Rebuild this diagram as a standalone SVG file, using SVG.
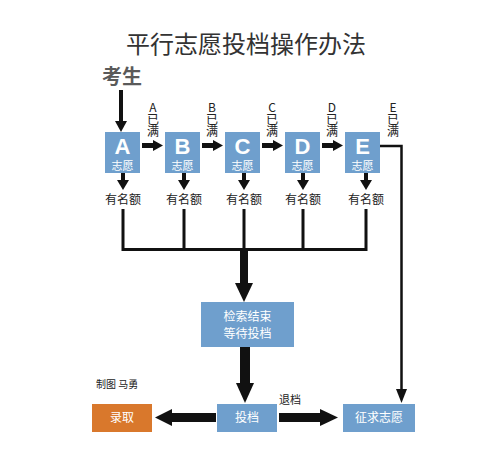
<svg xmlns="http://www.w3.org/2000/svg" width="499" height="458" viewBox="0 0 499 458">
<style>
text{font-family:"Noto Sans CJK SC","Liberation Sans",sans-serif;}
.box{fill:#6f9fcd;}
.org{fill:#d9782c;}
.wt{fill:#fff;text-anchor:middle;}
.big{font-size:22px;font-weight:bold;font-family:"Liberation Sans","Noto Sans CJK SC",sans-serif;}
.sm{font-size:11px;}
.lbl{font-size:12px;fill:#222;text-anchor:middle;}
.vl{font-size:12px;fill:#222;writing-mode:vertical-rl;text-orientation:upright;}
.ln{stroke:#111;fill:none;}
.ar{fill:#111;}
</style>
<rect width="499" height="458" fill="#fff"/>
<text x="246" y="53" font-size="24" fill="#333" text-anchor="middle">平行志愿投档操作办法</text>
<text x="122" y="84" font-size="20" font-weight="bold" fill="#5a5a5a" text-anchor="middle">考生</text>

<g id="nodeA"><rect class="box" x="105" y="132" width="35" height="41"/><text class="wt big" x="122.5" y="154">A</text><text class="wt sm" x="122.5" y="170">志愿</text></g>
<g id="nodeB"><rect class="box" x="165" y="132" width="35" height="41"/><text class="wt big" x="182.5" y="154">B</text><text class="wt sm" x="182.5" y="170">志愿</text></g>
<g id="nodeC"><rect class="box" x="225" y="132" width="35" height="41"/><text class="wt big" x="242.5" y="154">C</text><text class="wt sm" x="242.5" y="170">志愿</text></g>
<g id="nodeD"><rect class="box" x="285" y="132" width="35" height="41"/><text class="wt big" x="302.5" y="154">D</text><text class="wt sm" x="302.5" y="170">志愿</text></g>
<g id="nodeE"><rect class="box" x="345" y="132" width="35" height="41"/><text class="wt big" x="362.5" y="154">E</text><text class="wt sm" x="362.5" y="170">志愿</text></g>

<g id="nodeWait"><rect class="box" x="201" y="302" width="93" height="45"/><text class="wt" font-size="12" x="247.5" y="321">检索结束</text><text class="wt" font-size="12" x="247.5" y="338">等待投档</text></g>
<g id="nodeTou"><rect class="box" x="217" y="404" width="60" height="28"/><text class="wt" font-size="12" x="247" y="422">投档</text></g>
<g id="nodeLu"><rect class="org" x="92" y="404" width="60" height="28"/><text class="wt" font-size="12" x="122" y="422">录取</text></g>
<g id="nodeZheng"><rect class="box" x="343" y="404" width="72" height="28"/><text class="wt" font-size="12" x="379" y="422">征求志愿</text></g>

<g id="labels">
<text class="vl" x="153" y="101">A已满</text>
<text class="vl" x="212" y="101">B已满</text>
<text class="vl" x="272" y="101">C已满</text>
<text class="vl" x="332" y="101">D已满</text>
<text class="vl" x="393" y="101">E已满</text>
<text class="lbl" x="123" y="204">有名额</text>
<text class="lbl" x="184" y="204">有名额</text>
<text class="lbl" x="244" y="204">有名额</text>
<text class="lbl" x="303" y="204">有名额</text>
<text class="lbl" x="366" y="204">有名额</text>
<text x="290" y="404" font-size="11" fill="#222" text-anchor="middle">退档</text>
<text x="96" y="388" font-size="10" fill="#222">制图 马勇</text>
</g>

<g id="connectors">
<rect class="ar" x="119" y="90" width="4" height="32"/><polygon class="ar" points="115,121 127,121 121,132"/>
<rect class="ar" x="142" y="143" width="12" height="5"/><polygon class="ar" points="153,140 153,151 163,145.5"/>
<rect class="ar" x="202" y="143" width="12" height="5"/><polygon class="ar" points="213,140 213,151 223,145.5"/>
<rect class="ar" x="262" y="143" width="12" height="5"/><polygon class="ar" points="273,140 273,151 283,145.5"/>
<rect class="ar" x="322" y="143" width="12" height="5"/><polygon class="ar" points="333,140 333,151 343,145.5"/>
<rect class="ar" x="121" y="173" width="4" height="8"/><polygon class="ar" points="117,180 129,180 123,190"/>
<rect class="ar" x="182" y="173" width="4" height="8"/><polygon class="ar" points="178,180 190,180 184,190"/>
<rect class="ar" x="242" y="173" width="4" height="8"/><polygon class="ar" points="238,180 250,180 244,190"/>
<rect class="ar" x="301" y="173" width="4" height="8"/><polygon class="ar" points="297,180 309,180 303,190"/>
<rect class="ar" x="364" y="173" width="4" height="8"/><polygon class="ar" points="360,180 372,180 366,190"/>
<path class="ln" stroke-width="3" d="M123,209V249.5H366V209M184,209V249.5M244,209V249.5M303,209V249.5"/>
<rect class="ar" x="240" y="249" width="8" height="35"/><polygon class="ar" points="235,283 253,283 244,302"/>
<rect class="ar" x="240" y="347" width="10" height="37"/><polygon class="ar" points="236,383 254,383 245,403"/>
<rect class="ar" x="170" y="413" width="46" height="9"/><polygon class="ar" points="172,409 172,426 155,417.5"/>
<rect class="ar" x="279" y="413" width="42" height="9"/><polygon class="ar" points="320,409 320,426 338,417.5"/>
<path class="ln" stroke-width="2.5" d="M380,146H401.5V390"/><polygon class="ar" points="396,389 407,389 401.5,403"/>
</g>
</svg>
